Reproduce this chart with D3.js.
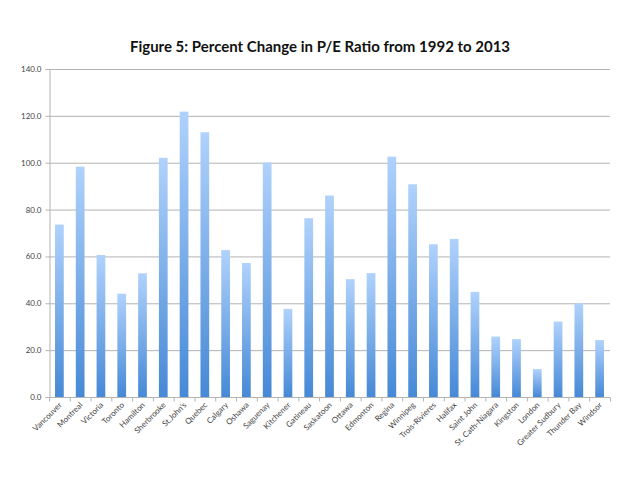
<!DOCTYPE html>
<html><head><meta charset="utf-8">
<script src="https://cdn.jsdelivr.net/npm/d3@7"></script>
<style>body{margin:0;background:#fff;} svg{display:block;}</style>
</head><body>
<svg id="chart" width="640" height="480"></svg>
<script>
const categories = ["Vancouver","Montreal","Victoria","Toronto","Hamilton","Sherbrooke","St.John's","Quebec","Calgary","Oshawa","Saguenay","Kitchener","Gatineau","Saskatoon","Ottawa","Edmonton","Regina","Winnipeg","Trois-Rivieres","Halifax","Saint John","St. Cath-Niagara","Kingston","London","Greater Sudbury","Thunder Bay","Windsor"];
const values = [73.6,98.3,60.6,44.1,52.8,102.1,121.8,113.0,62.7,57.2,100.1,37.6,76.3,86.0,50.3,52.9,102.6,90.8,65.2,67.5,44.9,25.8,24.7,11.9,32.2,40.0,24.3];
const yTicks = [0,20,40,60,80,100,120,140];
const title = "Figure 5: Percent Change in P/E Ratio from 1992 to 2013";

const svg = d3.select("#chart");
const m = {left:49, right:30, top:69, bottom:83};
const W = 640, H = 480;
const x = d3.scaleBand().domain(categories).range([m.left, W - m.right]).paddingInner(0.58).paddingOuter(0.29);
const y = d3.scaleLinear().domain([0,140]).range([H - m.bottom, m.top]);

const defs = svg.append("defs");
const g = defs.append("linearGradient").attr("id","barGrad").attr("x1",0).attr("y1",0).attr("x2",0).attr("y2",1);
g.append("stop").attr("offset","0%").attr("stop-color","#b0d2fc");
g.append("stop").attr("offset","100%").attr("stop-color","#4689d6");

svg.append("text").attr("x", 320).attr("y", 52).attr("text-anchor","middle")
  .attr("font-family","Lato, 'Open Sans', sans-serif").attr("font-weight","bold").attr("font-size","15px").attr("fill","#111").text(title);

// gridlines
svg.append("g").selectAll("line").data(yTicks.filter(d=>d>0)).join("line")
  .attr("x1", m.left).attr("x2", W - m.right).attr("y1", d=>y(d)+0.5).attr("y2", d=>y(d)+0.5)
  .attr("stroke","#b3b3b3").attr("stroke-width",1);

// y axis
const yAxis = d3.axisLeft(y).tickValues(yTicks).tickSize(4).tickFormat(d3.format(".1f"));
const ya = svg.append("g").attr("transform",`translate(${m.left+0.5},0)`).call(yAxis);
ya.select(".domain").attr("stroke","#b3b3b3");
ya.selectAll(".tick line").attr("stroke","#b3b3b3");
ya.selectAll(".tick text").attr("font-family","Lato, 'Open Sans', sans-serif").attr("font-size","8px").attr("fill","#444").attr("x",-8);

// bars
svg.append("g").selectAll("rect").data(values).join("rect")
  .attr("x",(d,i)=>x(categories[i])).attr("width",x.bandwidth())
  .attr("y",d=>y(d)).attr("height",d=>y(0)-y(d)).attr("fill","url(#barGrad)");

// x axis
const step = x.step();
const xa = svg.append("g").attr("transform",`translate(0,${y(0)+0.5})`);
xa.append("line").attr("x1",m.left).attr("x2",W-m.right).attr("stroke","#b3b3b3");
const bounds = d3.range(categories.length+1).map(i=>m.left + i*(W-m.left-m.right)/categories.length);
xa.selectAll("line.tk").data(bounds).join("line").attr("class","tk")
  .attr("x1",d=>d+0.5).attr("x2",d=>d+0.5).attr("y1",0).attr("y2",4).attr("stroke","#b3b3b3");
xa.selectAll("text").data(categories).join("text")
  .attr("transform",d=>`translate(${x(d)+x.bandwidth()/2+3},8) rotate(-45)`)
  .attr("text-anchor","end").attr("font-family","Lato, 'Open Sans', sans-serif").attr("font-size","8px").attr("fill","#444")
  .text(d=>d);
</script>
</body></html>
